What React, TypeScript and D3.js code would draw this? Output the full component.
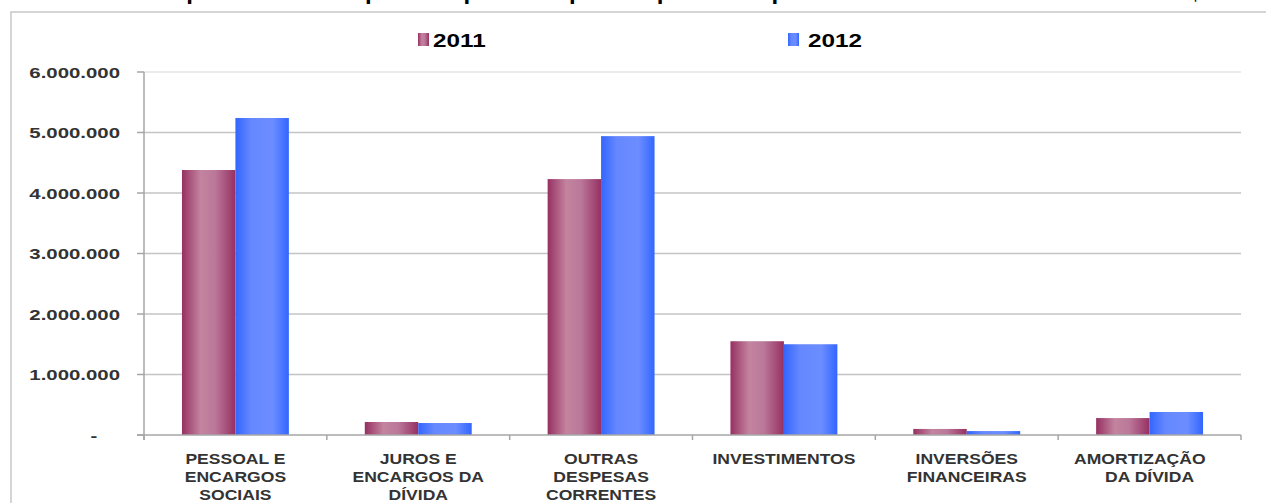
import React from "react";
import * as d3 from "d3";

const categories: string[][] = [
  ["PESSOAL E", "ENCARGOS", "SOCIAIS"],
  ["JUROS E", "ENCARGOS DA", "DÍVIDA"],
  ["OUTRAS", "DESPESAS", "CORRENTES"],
  ["INVESTIMENTOS"],
  ["INVERSÕES", "FINANCEIRAS"],
  ["AMORTIZAÇÃO    ", "DA DÍVIDA"],
];
const seriesNames = ["2011", "2012"];
const values2011 = [4380000, 215000, 4230000, 1550000, 100000, 280000];
const values2012 = [5240000, 198000, 4940000, 1500000, 65000, 380000];
const yTicks = [0, 1000000, 2000000, 3000000, 4000000, 5000000, 6000000];
const yTickLabels = ["-    ", "1.000.000", "2.000.000", "3.000.000", "4.000.000", "5.000.000", "6.000.000"];
const title = "Comparativo da Despesa Empenhada por Grupo de Despesa - Exercícios 2011 e 2012 - Em R$";

const W = 1266;
const H = 503;
const FONT = "'Liberation Sans', Arial, sans-serif";

function SText(props: {
  x: number; y: number; sx: number; size: number; anchor?: string; fill?: string; children: string;
}) {
  const { x, y, sx, size, anchor = "start", fill = "#333333", children } = props;
  return (
    <text
      transform={`translate(${x},${y}) scale(${sx},1)`}
      textAnchor={anchor}
      fontFamily={FONT}
      fontWeight="bold"
      fontSize={size}
      fill={fill}
      style={{ whiteSpace: "pre" }}
    >
      {children}
    </text>
  );
}

export default function App() {
  const plotLeft = 144;
  const plotRight = 1241;
  const yTop = 72;
  const yBottom = 435;

  const keys = categories.map((_, i) => String(i));
  const x0 = d3.scaleBand<string>().domain(keys).range([plotLeft, plotRight]).paddingInner(0).paddingOuter(0);
  const x1 = d3
    .scaleBand<string>()
    .domain(seriesNames)
    .range([0, x0.bandwidth()])
    .paddingInner(0)
    .paddingOuter(0.71);
  const y = d3.scaleLinear().domain([0, 6000000]).range([yBottom, yTop]);

  const seriesValues = [values2011, values2012];
  const fills = ["url(#g2011)", "url(#g2012)"];

  const boundaries = keys.map((k) => x0(k) as number).concat([plotRight]);

  return (
    <svg width={W} height={H} style={{ position: "absolute", left: 0, top: 0, background: "#fff" }}>
      <defs>
        <linearGradient id="g2011" x1="0" x2="1" y1="0" y2="0">
          <stop offset="0%" stopColor="#963062" />
          <stop offset="35%" stopColor="#c3849f" />
          <stop offset="62%" stopColor="#bb789a" />
          <stop offset="100%" stopColor="#963062" />
        </linearGradient>
        <linearGradient id="g2012" x1="0" x2="1" y1="0" y2="0">
          <stop offset="0%" stopColor="#3366ff" />
          <stop offset="30%" stopColor="#6688ff" />
          <stop offset="70%" stopColor="#6b8dff" />
          <stop offset="100%" stopColor="#3366ff" />
        </linearGradient>
      </defs>
      <rect x={0} y={0} width={W} height={H} fill="#ffffff" />

      {/* title (cut off at the top edge, as in the source) */}
      <SText x={133} y={-0.5} sx={1.2} size={20} fill="#000000">{title}</SText>

      {/* chart frame */}
      <rect x={11} y={12} width={1400} height={700} fill="none" stroke="#c8c8c8" strokeWidth={1.5} />

      {/* gridlines */}
      {yTicks.slice(1).map((t, i) => (
        <line
          key={"g" + i}
          x1={plotLeft}
          x2={plotRight}
          y1={y(t)}
          y2={y(t)}
          stroke={t === 6000000 ? "#e4e4e4" : "#c4c4c4"}
          strokeWidth={1.5}
        />
      ))}

      {/* bars */}
      {keys.map((k, ci) => (
        <g key={"c" + k} transform={`translate(${x0(k)},0)`}>
          {seriesNames.map((s, si) => {
            const v = seriesValues[si][ci];
            return (
              <rect
                key={s}
                x={x1(s) as number}
                y={y(v)}
                width={x1.bandwidth()}
                height={yBottom - y(v)}
                fill={fills[si]}
              />
            );
          })}
        </g>
      ))}

      {/* y axis */}
      <line x1={plotLeft} x2={plotLeft} y1={yTop} y2={yBottom + 5} stroke="#a6a6a6" strokeWidth={1.5} />
      {yTicks.map((t, i) => (
        <line key={"yt" + i} x1={plotLeft - 7} x2={plotLeft} y1={y(t)} y2={y(t)} stroke="#a6a6a6" strokeWidth={1.5} />
      ))}
      {yTicks.map((t, i) => (
        <SText key={"yl" + i} x={120} y={y(t) + 5.5} sx={1.36} size={15} anchor="end">
          {yTickLabels[i]}
        </SText>
      ))}

      {/* x axis */}
      <line x1={plotLeft - 7} x2={plotRight} y1={yBottom} y2={yBottom} stroke="#a6a6a6" strokeWidth={1.5} />
      {boundaries.map((b, i) => (
        <line key={"xt" + i} x1={b} x2={b} y1={yBottom} y2={yBottom + 5} stroke="#a6a6a6" strokeWidth={1.5} />
      ))}
      {keys.map((k, ci) => (
        <g key={"xl" + k}>
          {categories[ci].map((line, li) => (
            <SText
              key={li}
              x={(x0(k) as number) + x0.bandwidth() / 2}
              y={464 + li * 18}
              sx={1.17}
              size={15}
              anchor="middle"
            >
              {line}
            </SText>
          ))}
        </g>
      ))}

      {/* legend */}
      {[
        { name: seriesNames[0], mx: 418, tx: 433, fill: fills[0] },
        { name: seriesNames[1], mx: 788, tx: 808, fill: fills[1] },
      ].map((l) => (
        <g key={l.name}>
          <rect x={l.mx} y={33} width={11} height={13} fill={l.fill} />
          <SText x={l.tx} y={46.5} sx={1.35} size={18} fill="#000000">{l.name}</SText>
        </g>
      ))}
    </svg>
  );
}
